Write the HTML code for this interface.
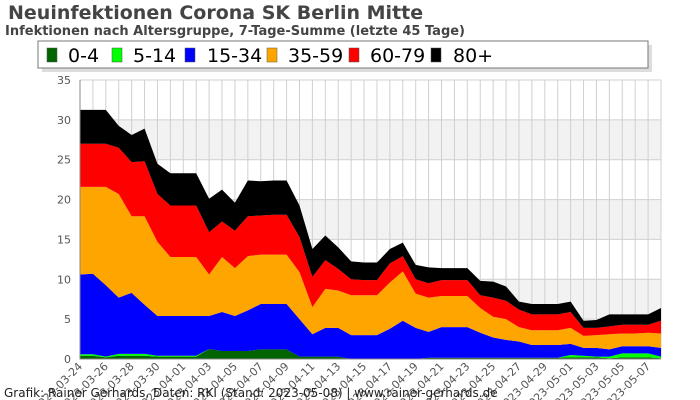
<!DOCTYPE html>
<html><head><meta charset="utf-8"><style>
body{margin:0;background:#fff;}
svg{display:block;font-family:"DejaVu Sans","Liberation Sans",sans-serif;}
</style></head><body>
<svg id="c" width="700" height="400">
<text x="8" y="19" font-size="19" font-weight="bold" fill="#444">Neuinfektionen Corona SK Berlin Mitte</text>
<text x="5" y="35" font-size="13" font-weight="bold" fill="#444">Infektionen nach Altersgruppe, 7-Tage-Summe (letzte 45 Tage)</text>
<g id="grid"></g><g id="areas"></g><g id="axes"></g>
<g>
<rect x="42" y="45" width="610" height="27" fill="#ddd"/>
<rect x="38" y="41" width="610" height="27" fill="#fff" stroke="#777"/>
<g id="leg"></g>
</g>
<text x="4" y="397" font-size="12" fill="#222">Grafik: Rainer Gerhards, Daten: RKI (Stand: 2023-05-08) | www.rainer-gerhards.de</text>
</svg>
<script>
const groups=["0-4","5-14","15-34","35-59","60-79","80+"];
const colors=["#006400","#00ff00","#0000ff","#ffa500","#ff0000","#000000"];
const yTicks=[0,5,10,15,20,25,30,35];
const g04=[0.4,0.4,0.2,0.4,0.4,0.4,0.3,0.3,0.3,0.3,1.25,1.0,1.0,1.0,1.2,1.2,1.2,0.3,0.3,0.3,0.3,0,0,0,0,0,0,0.15,0.15,0.15,0.15,0.15,0.15,0.15,0.15,0.15,0.15,0.15,0.2,0.2,0.2,0.1,0.2,0.2,0.2,0.1];
const g514=[0.2,0.2,0.1,0.25,0.25,0.25,0.1,0.1,0.1,0.1,0,0,0,0,0,0,0,0,0,0,0,0,0,0,0,0,0,0,0,0,0,0,0,0,0,0,0,0,0.3,0.2,0.1,0.2,0.5,0.5,0.5,0.2];
const g1534=[10.0,10.1,8.95,7.05,7.65,6.15,5.0,5.0,5.0,5.0,4.15,4.9,4.4,5.1,5.7,5.7,5.7,4.7,2.8,3.6,3.6,3.0,3.0,3.0,3.8,4.8,3.9,3.25,3.85,3.85,3.85,3.15,2.55,2.25,2.05,1.6,1.6,1.6,1.4,1.0,1.1,0.9,0.9,0.9,0.9,1.1];
const g3559=[11.0,10.9,12.35,13.0,9.6,11.1,9.3,7.4,7.4,7.4,5.2,6.9,6.0,6.8,6.2,6.2,6.2,5.9,3.4,4.9,4.7,5.0,5.0,5.0,5.8,6.2,4.3,4.3,3.9,3.9,3.9,3.1,2.6,2.6,1.8,1.85,1.85,1.85,2.0,1.5,1.6,1.9,1.6,1.6,1.7,1.8];
const g6079=[5.4,5.4,5.4,5.8,6.8,6.9,6.0,6.45,6.45,6.45,5.3,4.45,4.7,5.0,4.9,5.0,5.0,4.4,3.8,3.6,2.7,2.0,1.9,1.9,2.4,1.9,1.8,1.8,2.0,2.0,2.0,1.6,2.4,2.3,2.2,2.0,2.0,2.0,2.0,1.0,0.9,1.0,1.1,1.1,1.0,1.6];
const g80=[4.25,4.25,4.25,2.75,3.4,4.1,3.8,4.05,4.05,4.05,4.2,4.0,3.5,4.5,4.3,4.3,4.3,3.95,3.5,3.1,2.7,2.25,2.2,2.2,1.8,1.7,1.8,2.0,1.5,1.5,1.5,1.8,2.0,1.8,1.0,1.3,1.3,1.3,1.3,0.9,1.0,1.5,1.3,1.3,1.3,1.6];
const startDate="2023-03-24";
const series=[g04,g514,g1534,g3559,g6079,g80];
const N=g04.length;
const X0=80,X1=661,Y0=359,Y1=80,YMAX=35;
const dates=[];{const d0=new Date(startDate+"T00:00:00Z");for(let i=0;i<N;i++){const d=new Date(d0.getTime()+i*864e5);dates.push(d.toISOString().slice(0,10));}}
const x=i=>X0+(X1-X0)*i/(N-1);
const y=v=>Y0-(Y0-Y1)*v/YMAX;
const NS="http://www.w3.org/2000/svg";
function mk(t,p,a){const e=document.createElementNS(NS,t);for(const k in a)e.setAttribute(k,a[k]);p.appendChild(e);return e;}
const grid=document.getElementById('grid'),areas=document.getElementById('areas'),axes=document.getElementById('axes'),leg=document.getElementById('leg');
for(let k=0;k<yTicks.length-1;k++){if(k%2===1){const r=mk('rect',grid,{x:X0,y:y(yTicks[k+1]),width:X1-X0,height:y(yTicks[k])-y(yTicks[k+1]),fill:'#f2f2f2'});

}}
for(let i=0;i<N;i++){const l=mk('line',grid,{x1:x(i),x2:x(i),y1:Y1,y2:Y0,stroke:'#d0d0d0','stroke-width':1});

}
yTicks.forEach(t=>{const l=mk('line',grid,{x1:X0,x2:X1,y1:y(t),y2:y(t),stroke:'#d0d0d0'});


const tx=mk('text',axes,{x:71,y:y(t)+4,'font-size':11,fill:'#555','text-anchor':'end'});tx.textContent=t;

});
let base=new Array(N).fill(0);
series.forEach((s,si)=>{const top=base.map((b,i)=>b+s[i]);let d='M'+x(0)+','+y(top[0]);
for(let i=1;i<N;i++)d+='L'+x(i)+','+y(top[i]);for(let i=N-1;i>=0;i--)d+='L'+x(i)+','+y(base[i]);d+='Z';
const p=mk('path',areas,{d:d,fill:colors[si]});


base=top;});
const ax=mk('path',axes,{d:`M${X0},${Y1}V${Y0}H${X1}`,stroke:'#888',fill:'none'});


for(let i=0;i<N;i+=2){const tx=mk('text',axes,{x:x(i)+3,y:Y0+8,'font-size':11,fill:'#555','text-anchor':'end',transform:`rotate(-45 ${x(i)+3} ${Y0+8})`});tx.textContent=dates[i];

}
const sw=[47,112,185,267,349,431],tx=[68,133,207,288,370,453];
groups.forEach((g,i)=>{const gg=mk('g',leg,{});


mk('rect',gg,{x:sw[i],y:48,width:10,height:14,fill:colors[i],stroke:'#555','stroke-width':0.5});
const t=mk('text',gg,{x:tx[i],y:62,'font-size':19,fill:'#000'});t.textContent=g;});
</script>
</body></html>
